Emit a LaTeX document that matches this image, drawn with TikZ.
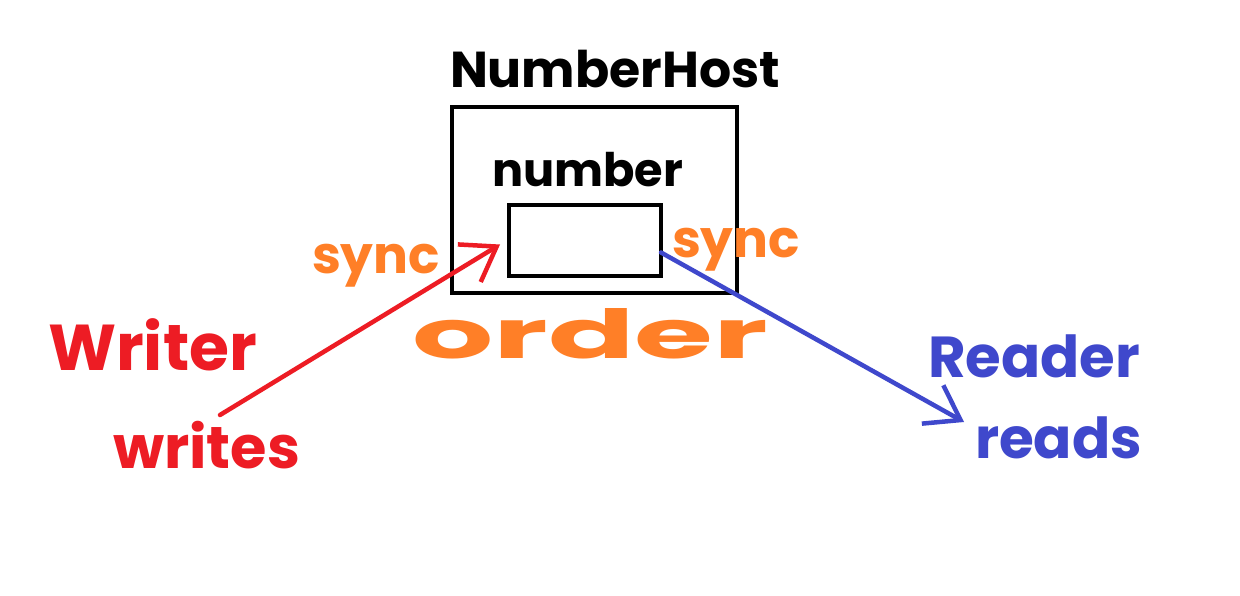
\documentclass[tikz,border=0pt]{standalone}
\usepackage{fontspec}
\setmainfont{Poppins}
\usetikzlibrary{arrows.meta}
\definecolor{pred}{HTML}{ED1C24}
\definecolor{porange}{HTML}{FF7F27}
\definecolor{pblue}{HTML}{3F48CC}
\begin{document}
\begin{tikzpicture}[x=1pt,y=-1pt,
  lbl/.style={anchor=base west,inner sep=0pt,outer sep=0pt},
  boxx/.style={draw=black,line width=4.5pt,inner sep=0pt,outer sep=0pt},
  hand/.style={line width=4.5pt,line cap=round,-{Straight Barb[length=32pt,width=44pt,line width=4.5pt]}}]
\useasboundingbox (0,0) rectangle (1240,596);
\fill[white] (0,0) rectangle (1240,596);
% boxes
\draw[boxx] (452,107) rectangle (737,293);
\node[boxx,minimum width=152pt,minimum height=71pt] (inner) at (585,240.5) {};
% texts
\node[lbl] (host) at (450,88) {\resizebox{330pt}{!}{\bfseries NumberHost}};
\node[lbl] (num) at (492,187) {\resizebox{191pt}{!}{\bfseries number}};
\node[lbl,text=porange] (syncl) at (312,273) {\resizebox{128pt}{!}{\bfseries sync}};
\node[lbl,text=porange] (syncr) at (672,257) {\resizebox{128pt}{!}{\bfseries sync}};
\node[lbl,text=porange] (order) at (412,358) {\resizebox{356pt}{50pt}{\bfseries order}};
\node[lbl,text=pred] (writer) at (48,370) {\resizebox{209pt}{!}{\bfseries Writer}};
\node[lbl,text=pred] (writes) at (113,468) {\resizebox{187pt}{!}{\bfseries writes}};
\node[lbl,text=pblue] (reader) at (928,377) {\resizebox{212pt}{!}{\bfseries Reader}};
\node[lbl,text=pblue] (reads) at (975,458) {\resizebox{167pt}{!}{\bfseries reads}};
% arrows
\coordinate (ws) at (220,415);
\coordinate (rt) at (964,422);
\draw[hand,pred] (ws) -- ([xshift=-9pt,yshift=-4pt]inner.west);
\draw[hand,pblue] ([yshift=-12pt]inner.east) -- (rt);
\end{tikzpicture}
\end{document}
